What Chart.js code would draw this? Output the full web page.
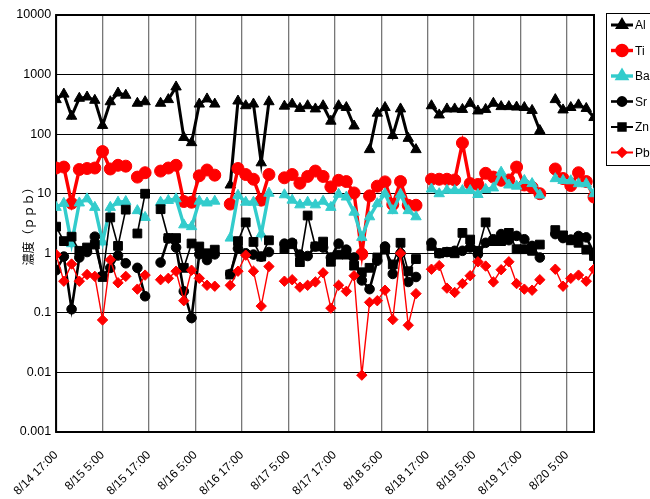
<!DOCTYPE html>
<html><head><meta charset="utf-8">
<script src="https://cdn.jsdelivr.net/npm/chart.js@4"></script>
<style>html,body{margin:0;padding:0;background:#fff;overflow:hidden}#wrap{width:650px;height:499px;position:relative}</style>
</head><body><div id="wrap"><canvas id="c" width="650" height="499"></canvas></div>
<script>
// hours elapsed since 8/14 17:00
const hours = [0,2,4,6,8,10,12,14,16,18,
 21,23,
 27,29,31,33,35,37,39,41,
 45,47,49,51,53,55,
 59,61,63,65,67,69,71,73,75,77,79,81,83,85,87,89,91,93,
 97,99,101,103,105,107,109,111,113,115,117,119,121,123,125,
 129,131,133,135,137,139];

const Al = [380,470,200,400,420,370,140,350,490,450,
 330,350,
 330,380,620,88,72,320,390,320,
 14,360,300,320,33,350,
 295,320,270,300,265,300,165,300,280,137,null,55,225,280,95,265,85,55,
 300,210,265,265,260,330,245,260,330,290,290,285,280,250,115,
 380,255,280,310,270,190];

const Ti = [27,28,6.9,25.5,26.5,27,51,26,30,29,
 19,22.5,
 24,27,30,7.4,7.2,20,25,20.5,
 6.7,26.5,21,17.5,7.8,21,
 18.5,21,15,19.5,24,19.5,13,16.8,16,10.3,0.97,9.2,13.4,15.8,6.6,16,6.4,6.4,
 17.5,17.5,17.5,17,71,14.8,14.3,22,19,16.8,17,28,14,12.8,10,
 26,18,13.7,22.5,16,8.8];

const Ba = [5.9,6.9,1.45,7,8.2,5.9,1.55,5.9,7.2,7.4,
 5.2,4.0,
 7.2,7.7,8.2,3.0,2.8,7.5,7.0,7.5,
 1.8,9.4,7.2,7.2,2.1,10.2,
 9.6,7.8,6.5,7.2,6.5,7.5,5.9,9.8,8.8,4.9,1.85,4.1,6.8,10,5.2,9.8,5.2,4.1,
 12,10,11.4,11.3,11.3,11.3,9.7,11.8,12.5,23,14,13.4,16.7,14.8,9.5,
 17.9,16.7,16.5,14.7,14.7,10];

const Sr = [0.52,0.88,0.115,0.85,1.05,1.9,0.42,0.57,0.92,0.68,
 0.57,0.19,
 0.70,1.77,1.25,0.23,0.082,0.96,0.77,0.96,
 0.45,1.2,1.0,0.95,0.88,1.05,
 1.45,1.5,0.95,0.9,1.3,1.25,0.85,1.45,1.15,0.85,0.35,0.25,0.75,1.3,0.45,1.0,0.33,0.4,
 1.5,1.0,1.05,1.1,1.1,1.25,0.96,1.5,1.72,2.1,1.66,1.96,1.72,1.33,0.85,
 2.1,1.8,1.7,1.95,1.85,1.0];

const Zn = [2.8,1.6,1.9,1.1,1.25,1.4,0.40,4.0,1.33,5.4,
 2.15,10,
 5.5,1.8,1.8,0.57,1.46,1.3,1.0,1.15,
 0.44,1.6,3.3,1.55,0.88,1.65,
 1.2,1.42,0.71,4.3,1.3,1.57,0.72,0.95,0.95,0.62,0.48,0.57,0.85,1.15,0.65,1.5,0.5,0.8,
 1.33,1.0,1.05,1.0,2.2,1.7,1.1,3.3,1.6,1.6,2.2,1.17,1.17,1.1,1.4,
 2.45,2.0,1.65,1.5,1.15,0.9];

const Pb = [0.95,0.34,0.66,0.34,0.44,0.41,0.076,0.78,0.32,0.41,
 0.25,0.43,
 0.36,0.38,0.50,0.16,0.52,0.38,0.29,0.28,
 0.29,0.50,0.93,0.50,0.13,0.60,
 0.34,0.36,0.27,0.29,0.33,0.47,0.12,0.29,0.23,0.42,0.009,0.15,0.16,0.24,0.077,1.0,0.062,0.21,
 0.54,0.62,0.26,0.22,0.31,0.42,0.72,0.61,0.33,0.53,0.72,0.31,0.25,0.24,0.36,
 0.54,0.28,0.38,0.43,0.34,0.54];

const xTickHours = [0,12,24,36,48,60,72,84,96,108,120,132];
const yTickValues = [0.001,0.01,0.1,1,10,100,1000,10000];
const yTickLabels = ['0.001','0.01','0.1','1','10','100','1000','10000'];
const yTitle = '濃度（ｐｐｂ）';

function fmtHour(h){
  const total = 17 + h;
  const day = 14 + Math.floor(total/24);
  const hr = total % 24;
  return '8/' + day + ' ' + hr + ':00';
}
function toPoints(vals){
  const pts = [];
  for (let i=0;i<hours.length;i++){
    if (i>0 && hours[i]-hours[i-1] > 2.5) pts.push({x:(hours[i]+hours[i-1])/2, y:null});
    pts.push({x:hours[i], y:vals[i]});
  }
  return pts;
}
const styles = [
  {label:'Al', data:Al, color:'#000000', style:'triangle', r:6, lw:3},
  {label:'Ti', data:Ti, color:'#FF0000', style:'circle', r:6, lw:3.4},
  {label:'Ba', data:Ba, color:'#33CCCC', style:'triangle', r:6, lw:3.4},
  {label:'Sr', data:Sr, color:'#000000', style:'circle', r:4.8, lw:2.6},
  {label:'Zn', data:Zn, color:'#000000', style:'rect', r:6.2, lw:1.6},
  {label:'Pb', data:Pb, color:'#FF0000', style:'rectRot', r:5.2, lw:1.4}
];
const datasets = styles.map((s,i)=>({
  label:s.label, data:toPoints(s.data),
  borderColor:s.color, backgroundColor:s.color,
  pointBackgroundColor:s.color, pointBorderColor:s.color,
  pointStyle:s.style, pointRadius:s.r, pointBorderWidth:1,
  borderWidth:s.lw, tension:0, spanGaps:false, order:-i, fill:false
}));

const frame = {
  id:'frame',
  beforeDatasetsDraw(chart){
    const {ctx, chartArea:a} = chart;
    ctx.save(); ctx.strokeStyle='#000'; ctx.lineWidth=2;
    ctx.strokeRect(a.left, a.top, a.right-a.left, a.bottom-a.top);
    ctx.restore();
  }
};
const legendBox = {
  id:'legendBox',
  afterDraw(chart){
    const ctx = chart.ctx;
    ctx.save();
    ctx.fillStyle='#fff'; ctx.fillRect(606.5,13.5,60,152);
    ctx.strokeStyle='#000'; ctx.lineWidth=1;
    ctx.strokeRect(606.5,13.5,60,152);
    chart.data.datasets.forEach((d,i)=>{
      const y = 25 + i*25.5;
      ctx.strokeStyle=d.borderColor; ctx.lineWidth=Math.max(2,d.borderWidth);
      ctx.beginPath(); ctx.moveTo(611,y); ctx.lineTo(633,y); ctx.stroke();
      ctx.fillStyle=d.pointBackgroundColor; ctx.strokeStyle=d.pointBorderColor;
      Chart.helpers.drawPoint(ctx,{pointStyle:d.pointStyle, radius:d.pointRadius*0.85, borderWidth:1, rotation:0}, 622, y);
      ctx.fillStyle='#000'; ctx.font='12px "Liberation Sans", Arial, sans-serif';
      ctx.textAlign='left'; ctx.textBaseline='middle';
      ctx.fillText(d.label, 635, y+1);
    });
    ctx.restore();
  }
};

new Chart(document.getElementById('c'), {
  type:'line',
  data:{datasets},
  plugins:[frame, legendBox],
  options:{
    responsive:false, animation:false, devicePixelRatio:1,
    layout:{padding:{top:15,right:56,left:0,bottom:0}},
    plugins:{legend:{display:false}, tooltip:{enabled:false}},
    scales:{
      x:{type:'linear', min:0, max:139,
        afterBuildTicks:s=>{ s.ticks = xTickHours.map(v=>({value:v})); },
        afterFit:s=>{ s.height = 67; },
        grid:{color:'#777777', lineWidth:1.3, drawTicks:false},
        border:{display:false},
        ticks:{autoSkip:false, maxRotation:45, minRotation:45, padding:16, color:'#000',
          font:{family:'"Liberation Sans", Arial, sans-serif', size:12},
          callback:(v)=>fmtHour(v)}
      },
      y:{type:'logarithmic', min:0.001, max:10000,
        afterBuildTicks:s=>{ s.ticks = yTickValues.map(v=>({value:v})); },
        afterFit:s=>{ s.width = 55; },
        grid:{color:'#000', lineWidth:1, drawTicks:false},
        border:{display:false},
        ticks:{padding:5, color:'#000', autoSkip:false,
          font:{family:'"Liberation Sans", Arial, sans-serif', size:12.5},
          callback:(v,i)=>yTickLabels[i]},
        title:{display:true, text:yTitle, color:'#000', padding:{top:20,bottom:0},
          font:{family:'"Noto Sans CJK JP", sans-serif', size:12}}
      }
    }
  }
});
</script></body></html>
